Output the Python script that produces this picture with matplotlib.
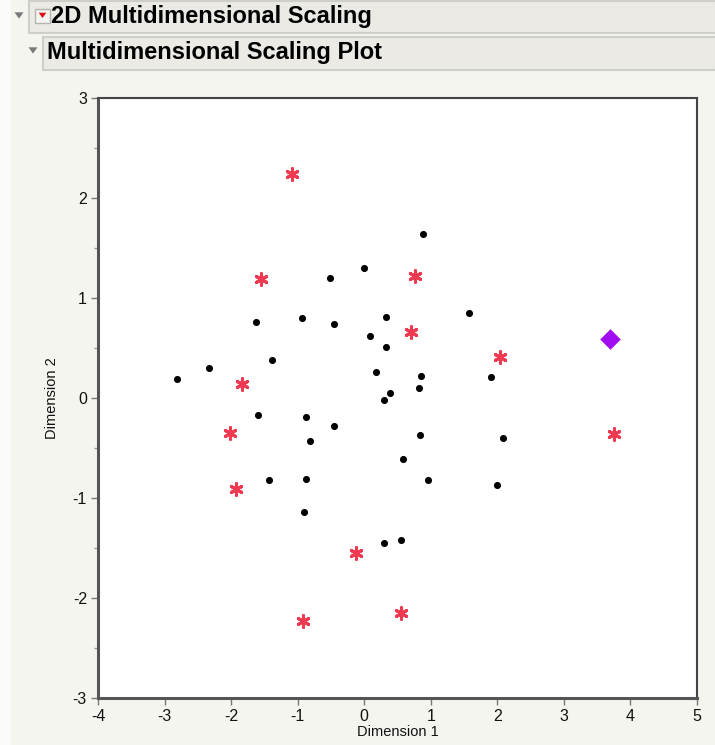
import matplotlib
matplotlib.use("Agg")
import matplotlib.pyplot as plt
from matplotlib.patches import Rectangle, Polygon

# ---- data ----
dot_x = [-2.82, -2.33, -1.63, -1.38, -0.93, -0.51, -0.46, 0.00, 0.08, 0.33, 0.33, 0.17,
         0.30, 0.39, 0.88, 0.85, 0.82, 0.84, 0.58, 0.96, 1.57, 1.91, 2.08, 2.00,
         0.29, 0.56, -1.60, -0.88, -0.82, -0.46, -1.43, -0.88, -0.91]
dot_y = [0.19, 0.30, 0.76, 0.38, 0.80, 1.20, 0.74, 1.30, 0.62, 0.81, 0.51, 0.26,
         -0.02, 0.05, 1.64, 0.22, 0.10, -0.37, -0.61, -0.82, 0.85, 0.21, -0.40, -0.87,
         -1.45, -1.42, -0.17, -0.19, -0.43, -0.28, -0.82, -0.81, -1.14]
star_x = [-1.08, -1.55, 0.77, 0.70, 2.04, -1.83, -2.02, -1.93, 3.76, -0.12, -0.92, 0.55]
star_y = [2.24, 1.19, 1.22, 0.66, 0.41, 0.14, -0.35, -0.91, -0.36, -1.55, -2.23, -2.15]
diamond_x = [3.70]
diamond_y = [0.59]

x_ticks = [-4, -3, -2, -1, 0, 1, 2, 3, 4, 5]
y_ticks = [-3, -2, -1, 0, 1, 2, 3]

BG = "#f5f5ef"
W, H = 715, 745

plt.rcParams['font.family'] = ['Liberation Sans', 'DejaVu Sans']
plt.rcParams['axes.unicode_minus'] = False
fig = plt.figure(figsize=(W / 100, H / 100), dpi=100, facecolor=BG)

def fx(px):
    return px / W

def fy(py):
    return 1 - py / H

# left white strip
fig.patches.append(Rectangle((0, 0), fx(11), 1, transform=fig.transFigure,
                             facecolor="#fbfbfa", edgecolor="none"))

# header bars
def bar(x0, y0, x1, y1):
    fig.patches.append(Rectangle((fx(x0), fy(y1)), fx(x1 - x0), (y1 - y0) / H,
                                 transform=fig.transFigure, facecolor="#ebeae4",
                                 edgecolor="#cfcfca", linewidth=1.5))

bar(29, 1, 716, 33)
bar(43, 37, 716, 70)

def tri(cx, cy, size, color):
    pts = [(fx(cx - size), fy(cy - size * 0.6)), (fx(cx + size), fy(cy - size * 0.6)),
           (fx(cx), fy(cy + size * 0.8))]
    fig.patches.append(Polygon(pts, closed=True, transform=fig.transFigure,
                               facecolor=color, edgecolor="none"))

tri(19, 15, 4.5, "#7a7a7a")
tri(33, 50, 4.5, "#7a7a7a")
# red menu icon
fig.patches.append(Rectangle((fx(35), fy(23)), fx(15), 14 / H, transform=fig.transFigure,
                             facecolor="#f4f4f0", edgecolor="#b5b5b0", linewidth=1))
tri(42.5, 15, 3.8, "#d8101a")

fig.text(fx(51), fy(17), "2D Multidimensional Scaling", fontsize=17, fontweight="bold",
         va="center", ha="left", color="black")
fig.text(fx(47), fy(53), "Multidimensional Scaling Plot", fontsize=17, fontweight="bold",
         va="center", ha="left", color="black")

ax = fig.add_axes([fx(98), fy(698), (697 - 98) / W, (698 - 98) / H])
ax.set_facecolor("white")

ax.scatter(dot_x, dot_y, s=26, c="black", marker="o", linewidths=0, zorder=3)
ax.scatter(star_x, star_y, s=70, c="#f03a52", marker=(6, 2, 0), linewidths=2.2, zorder=3)
ax.scatter(diamond_x, diamond_y, s=110, c="#a20cf2", marker="D", linewidths=0, zorder=3)

ax.set_xlim(-4, 5)
ax.set_ylim(-3, 3)
ax.set_xticks(x_ticks)
ax.set_yticks(y_ticks)
ax.set_yticks([-2.5, -1.5, -0.5, 0.5, 1.5, 2.5], minor=True)
ax.tick_params(axis="both", which="major", direction="out", length=5, width=1,
               color="#777777", labelsize=11.5, labelcolor="#111111", pad=3)
ax.tick_params(axis="y", which="minor", direction="out", length=3, width=1, color="#999999")

for side in ["left", "bottom"]:
    ax.spines[side].set_linewidth(2.2)
    ax.spines[side].set_color("#555555")
for side in ["top", "right"]:
    ax.spines[side].set_linewidth(1.5)
    ax.spines[side].set_color("#444444")

ax.set_xlabel("Dimension 1", fontsize=10.5, labelpad=1, color="#111111")
ax.set_ylabel("Dimension 2", fontsize=10.5, labelpad=10, color="#111111")

fig.savefig("out.png", dpi=100, facecolor=BG)
